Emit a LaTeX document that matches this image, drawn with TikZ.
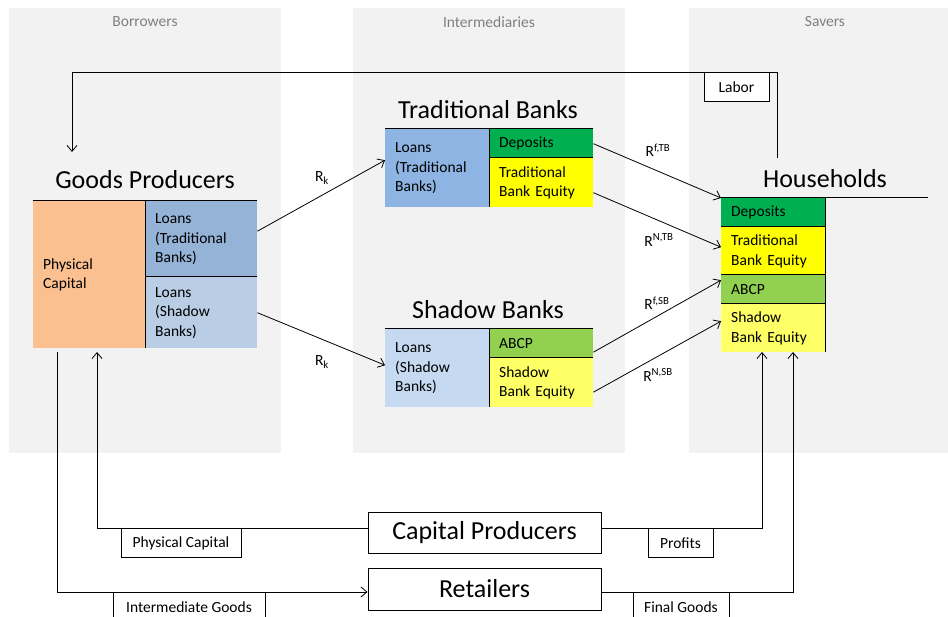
\documentclass[tikz,border=0pt]{standalone}
\usepackage{fontspec}
\setmainfont{Carlito}
\usetikzlibrary{arrows.meta}
\definecolor{panelgray}{HTML}{F2F2F2}
\definecolor{labelgray}{HTML}{7F7F7F}
\definecolor{capitalorange}{HTML}{FAC090}
\definecolor{gploantb}{HTML}{95B3D7}
\definecolor{gploansb}{HTML}{B9CDE5}
\definecolor{bankloantb}{HTML}{8DB4E2}
\definecolor{bankloansb}{HTML}{C5D9F1}
\definecolor{depositgreen}{HTML}{00B050}
\definecolor{abcpgreen}{HTML}{92D050}
\definecolor{tbequity}{HTML}{FFFF00}
\definecolor{sbequity}{HTML}{FFFF66}
\tikzset{
  panel/.style={fill=panelgray, draw=none},
  paneltitle/.style={text=labelgray, font=\fontsize{15.5}{19}\selectfont},
  title/.style={font=\fontsize{26}{30}\selectfont, inner sep=0pt},
  cell/.style 2 args={anchor=north west, inner xsep=10pt, inner ysep=0pt,
    text width=#1, minimum height=#2, align=left,
    font=\fontsize{15.5}{19.5}\selectfont},
  rule/.style={line width=1pt},
  flow/.style={line width=0.8pt, -{Straight Barb[length=6pt,width=10pt]}},
  tag/.style={draw, line width=0.8pt, fill=white, anchor=north, minimum height=29pt,
    inner xsep=0pt, font=\fontsize{15.5}{19}\selectfont},
  sector/.style={draw, line width=1pt, minimum width=233pt, inner sep=0pt,
    font=\fontsize{26}{30}\selectfont},
  rate/.style={font=\fontsize{15.5}{19}\selectfont},
}
\begin{document}
\begin{tikzpicture}[x=1pt, y=-1pt]
  \useasboundingbox (0,0) rectangle (948,617);
  % grey columns
  \fill[panel] (9,8) rectangle (281,453);
  \fill[panel] (353,8) rectangle (625,453);
  \fill[panel] (689,8) rectangle (948,453);
  \node[paneltitle] (borrowers) at (145,22) {Borrowers};
  \node[paneltitle] (intermediaries) at (489,22) {Intermediaries};
  \node[paneltitle] (savers) at (825,22) {Savers};

  % goods producers
  \node[title] (gptitle) at (145,180) {Goods Producers};
  \node[cell={92pt}{147pt}, fill=capitalorange] (gpcap) at (33,201) {Physical\\Capital};
  \node[cell={92pt}{76pt}, fill=gploantb] (gptb) at (145,201) {Loans\\(Traditional\\Banks)};
  \node[cell={92pt}{71pt}, fill=gploansb] (gpsb) at (145,277) {Loans\\(Shadow\\Banks)};
  \draw[rule] (gpcap.north west) -- (gptb.north east);
  \draw[rule] (gptb.north west) -- (gpsb.south west);
  \draw[rule] (gpsb.north west) -- (gpsb.north east);

  % traditional banks
  \node[title] (tbtitle) at (488,110) {Traditional Banks};
  \node[cell={84pt}{78pt}, fill=bankloantb] (tbloans) at (385,129) {Loans\\(Traditional\\Banks)};
  \node[cell={84pt}{29pt}, fill=depositgreen] (tbdep) at (489,129) {Deposits};
  \node[cell={84pt}{49pt}, fill=tbequity] (tbeq) at (489,158) {Traditional\\Bank Equity};
  \draw[rule] (tbloans.north west) -- (tbdep.north east);
  \draw[rule] (tbdep.north west) -- (tbeq.south west);
  \draw[rule] (tbeq.north west) -- (tbeq.north east);

  % shadow banks
  \node[title] (sbtitle) at (488,310) {Shadow Banks};
  \node[cell={84pt}{78pt}, fill=bankloansb] (sbloans) at (385,329) {Loans\\(Shadow\\Banks)};
  \node[cell={84pt}{29pt}, fill=abcpgreen] (sbabcp) at (489,329) {ABCP};
  \node[cell={84pt}{49pt}, fill=sbequity] (sbeq) at (489,358) {Shadow\\Bank Equity};
  \draw[rule] (sbloans.north west) -- (sbabcp.north east);
  \draw[rule] (sbabcp.north west) -- (sbeq.south west);
  \draw[rule] (sbeq.north west) -- (sbeq.north east);

  % households
  \node[title] (hhtitle) at (825,179) {Households};
  \node[cell={84pt}{29pt}, fill=depositgreen] (hhdep) at (721,198) {Deposits};
  \node[cell={84pt}{48pt}, fill=tbequity] (hheq) at (721,227) {Traditional\\Bank Equity};
  \node[cell={84pt}{29pt}, fill=abcpgreen] (hhabcp) at (721,275) {ABCP};
  \node[cell={84pt}{48pt}, fill=sbequity] (hhsbeq) at (721,304) {Shadow\\Bank Equity};
  \draw[rule] (hhdep.north west) -- ++(207,0);
  \draw[rule] (hhdep.north east) -- (hhsbeq.south east);
  \draw[rule] (hheq.north west) -- (hheq.north east);
  \draw[rule] (hhabcp.north west) -- (hhabcp.north east);
  \draw[rule] (hhsbeq.north west) -- (hhsbeq.north east);

  % loans and returns
  \draw[flow] ([yshift=8pt]gptb.east) -- ([yshift=8pt]tbloans.west);
  \draw[flow] (gpsb.east) -- ([yshift=3pt]sbloans.west);
  \draw[flow] (tbdep.east) -- (hhdep.north west);
  \draw[flow] ([yshift=-10pt]tbeq.east) -- ([yshift=4pt]hheq.west);
  \draw[flow] ([yshift=-8.5pt]sbabcp.east) -- ([yshift=9.5pt]hhabcp.west);
  \draw[flow] ([yshift=-9.5pt]sbeq.east) -- ([yshift=7pt]hhsbeq.west);
  \node[rate] (rktb) at (322,178) {R\textsubscript{k}};
  \node[rate] (rksb) at (322,362) {R\textsubscript{k}};
  \node[rate] (rftb) at (658,150) {R\textsuperscript{f,TB}};
  \node[rate] (rntb) at (659,240) {R\textsuperscript{N,TB}};
  \node[rate] (rfsb) at (657,303) {R\textsuperscript{f,SB}};
  \node[rate] (rnsb) at (658,375) {R\textsuperscript{N,SB}};

  % labor
  \coordinate (laborfrom) at (777,158);
  \coordinate (laborto) at (72,152);
  \draw[flow] (laborfrom) -- ++(0,-86) -| (laborto);
  \node[tag, minimum width=65pt] (labor) at (736.5,72) {Labor};

  % capital producers and retailers
  \node[sector, minimum height=41pt] (cp) at (484.5,533) {Capital Producers};
  \node[sector, minimum height=42pt] (ret) at (484.5,589) {Retailers};
  \coordinate (gpcapin) at (97,352);
  \coordinate (gpgoodsout) at (57,352);
  \coordinate (hhprofitin) at (762,352);
  \coordinate (hhgoodsin) at (793,352);
  \draw[flow] ([yshift=5pt]cp.west) -| (gpcapin);
  \draw[flow] ([yshift=5pt]cp.east) -| (hhprofitin);
  \draw[flow] (gpgoodsout) |- ([yshift=-3pt]ret.west);
  \draw[flow] ([yshift=-3pt]ret.east) -| (hhgoodsin);
  \node[tag, minimum width=120pt] (physcap) at (181,528) {Physical Capital};
  \node[tag, minimum width=65pt] (profits) at (680.5,528) {Profits};
  \node[tag, minimum width=152pt] (intgoods) at (189,592) {Intermediate Goods};
  \node[tag, minimum width=96pt] (finalgoods) at (681,592) {Final Goods};
\end{tikzpicture}
\end{document}
